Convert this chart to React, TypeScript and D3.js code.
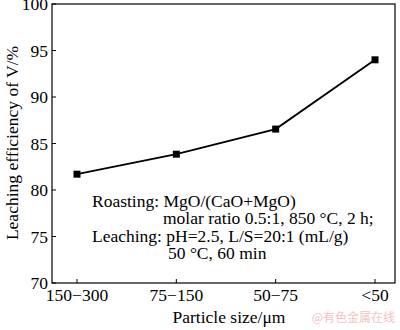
import React from "react";
import * as d3 from "d3";

const categories = ["150\u2212300", "75\u2212150", "50\u221275", "<50"];
const values = [81.7, 83.85, 86.55, 94.0];
const yTicks = [70, 75, 80, 85, 90, 95, 100];
const noteLines = [
  { text: "Roasting: MgO/(CaO+MgO)", indent: 0 },
  { text: "molar ratio 0.5:1, 850 \u00B0C, 2 h;", indent: 1 },
  { text: "Leaching: pH=2.5, L/S=20:1 (mL/g)", indent: 0 },
  { text: "50 \u00B0C, 60 min", indent: 2 },
];

export default function App() {
  const W = 400, H = 330;
  const left = 52, right = 395, top = 4, bottom = 283;
  const font = "'Liberation Serif', 'Times New Roman', serif";
  const x = d3.scalePoint<string>().domain(categories).range([77, 375]);
  const y = d3.scaleLinear().domain([70, 100]).range([bottom, top]);
  const line = d3.line<number>().x((_, i) => x(categories[i])!).y((d) => y(d));
  const noteX = [92, 163, 168];
  const noteY = [207, 224, 242, 259];
  return (
    <svg width={W} height={H} style={{ position: "absolute", left: 0, top: 0, background: "#fff" }}>
      <rect x={left} y={top} width={right - left} height={bottom - top} fill="none" stroke="#000" strokeWidth={1.2} />
      {yTicks.map((t) => (
        <g key={t}>
          <line x1={left} x2={left + 4} y1={y(t)} y2={y(t)} stroke="#000" strokeWidth={1} />
          <text x={48} y={y(t) + 6} textAnchor="end" fontFamily={font} fontSize={17.5}>{t}</text>
        </g>
      ))}
      {categories.map((c) => (
        <g key={c}>
          <line x1={x(c)} x2={x(c)} y1={bottom} y2={bottom - 4} stroke="#000" strokeWidth={1} />
          <text x={x(c)} y={301} textAnchor="middle" fontFamily={font} fontSize={17.5}>{c}</text>
        </g>
      ))}
      <path d={line(values) || ""} fill="none" stroke="#000" strokeWidth={1.8} />
      {values.map((v, i) => (
        <rect key={i} x={x(categories[i])! - 3.5} y={y(v) - 3.5} width={7} height={7} fill="#000" />
      ))}
      {noteLines.map((n, i) => (
        <text key={i} x={noteX[n.indent]} y={noteY[i]} fontFamily={font} fontSize={17.5}>{n.text}</text>
      ))}
      <text x={229} y={323} textAnchor="middle" fontFamily={font} fontSize={17.5}>Particle size/μm</text>
      <text transform={`translate(18,143) rotate(-90)`} textAnchor="middle" fontFamily={font} fontSize={17.5}>Leaching efficiency of V/%</text>
      <text x={395} y={322} textAnchor="end" fontFamily="'Noto Sans CJK SC', sans-serif" fontSize={12} fill="#f2c4c4">@有色金属在线</text>
    </svg>
  );
}
